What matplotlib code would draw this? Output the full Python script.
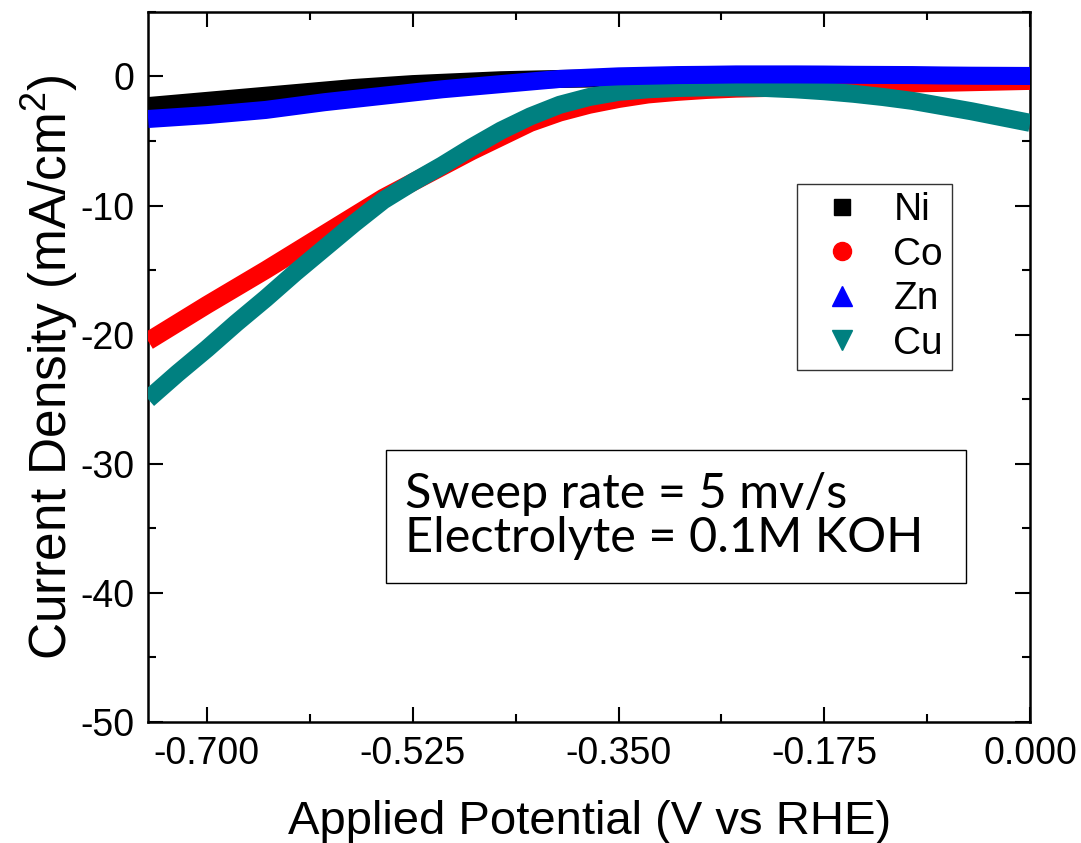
import matplotlib
matplotlib.use("Agg")
import matplotlib.pyplot as plt
from matplotlib.lines import Line2D
from matplotlib.patches import Rectangle
from matplotlib.ticker import MultipleLocator, FormatStrFormatter

plt.rcParams['font.family'] = ['Liberation Sans', 'DejaVu Sans']
plt.rcParams['axes.unicode_minus'] = False
plt.rcParams['mathtext.fontset'] = 'custom'
plt.rcParams['mathtext.rm'] = 'Liberation Sans'

# potential (V vs RHE)
potential = [-0.75, -0.725, -0.70, -0.675, -0.65, -0.625, -0.60, -0.575,
             -0.55, -0.525, -0.50, -0.475, -0.45, -0.425, -0.40, -0.375,
             -0.35, -0.325, -0.30, -0.275, -0.25, -0.225, -0.20, -0.175,
             -0.15, -0.125, -0.10, -0.075, -0.05, -0.025, 0.00]

# current density (mA/cm2)
ni = [-2.3, -2.1, -1.9, -1.7, -1.5, -1.3, -1.1, -0.9,
      -0.75, -0.6, -0.5, -0.4, -0.3, -0.25, -0.2, -0.17,
      -0.15, -0.13, -0.12, -0.11, -0.1, -0.1, -0.1, -0.1,
      -0.1, -0.1, -0.1, -0.1, -0.1, -0.1, -0.1]
co = [-20.5, -19.1, -17.7, -16.35, -15.0, -13.6, -12.2, -10.8,
      -9.4, -8.2, -7.0, -5.8, -4.7, -3.6, -2.8, -2.2,
      -1.75, -1.4, -1.2, -1.05, -0.95, -0.9, -0.85, -0.78,
      -0.7, -0.62, -0.55, -0.5, -0.45, -0.4, -0.35]
zn = [-3.3, -3.15, -3.0, -2.8, -2.6, -2.3, -2.0, -1.75,
      -1.5, -1.25, -1.0, -0.8, -0.6, -0.4, -0.2, -0.1,
      0.0, 0.05, 0.1, 0.12, 0.15, 0.15, 0.15, 0.14,
      0.12, 0.11, 0.1, 0.07, 0.05, 0.04, 0.03]
cu = [-25.0, -23.0, -21.1, -19.1, -17.2, -15.2, -13.3, -11.4,
      -9.6, -8.2, -6.9, -5.5, -4.2, -3.1, -2.2, -1.6,
      -1.2, -1.0, -0.9, -0.85, -0.85, -0.9, -1.0, -1.15,
      -1.35, -1.6, -1.9, -2.3, -2.7, -3.15, -3.6]

labels = ['Ni', 'Co', 'Zn', 'Cu']
colors = ['black', '#ff0000', '#0000ff', '#008080']
markers = ['s', 'o', '^', 'v']
msizes = [11, 13, 14, 14]
series = [ni, co, zn, cu]
zorders = [2, 3, 5, 4]

fig = plt.figure(figsize=(10.81, 8.43), dpi=100)
ax = fig.add_axes([0.137, 0.1435, 0.816, 0.8425])

for ys, c, z in zip(series, colors, zorders):
    ax.plot(potential, ys, color=c, lw=13, solid_joinstyle='round',
            solid_capstyle='butt', zorder=z)

ax.set_xlim(-0.75, 0.0)
ax.set_ylim(-50, 5)
ax.xaxis.set_major_locator(MultipleLocator(0.175))
ax.xaxis.set_minor_locator(MultipleLocator(0.0875))
ax.xaxis.set_major_formatter(FormatStrFormatter('%.3f'))
ax.yaxis.set_major_locator(MultipleLocator(10))
ax.yaxis.set_minor_locator(MultipleLocator(5))
ax.tick_params(which='both', direction='in', top=True, right=True,
               labelsize=27, width=1.5, pad=10)
ax.tick_params(which='major', length=11)
ax.tick_params(which='minor', length=6)
for s in ax.spines.values():
    s.set_linewidth(1.8)

ax.set_xlabel('Applied Potential (V vs RHE)', fontsize=34, labelpad=20)
ax.set_ylabel('Current Density (mA/cm$^\\mathregular{2}$)', fontsize=37, labelpad=0)

handles = [Line2D([], [], ls='none', marker=m, color=c, markersize=ms)
           for m, c, ms in zip(markers, colors, msizes)]
leg = ax.legend(handles, labels, loc='upper left',
                bbox_to_anchor=(0.736, 0.758), fontsize=28,
                frameon=True, fancybox=False, edgecolor='black',
                handlelength=1.88, handletextpad=0.37, labelspacing=0.22,
                borderpad=0.22, borderaxespad=0)
leg.get_frame().set_linewidth(1.0)

# annotation box
ax.add_patch(Rectangle((0.270, 0.196), 0.657, 0.187, transform=ax.transAxes,
                       fc='white', ec='black', lw=1.0, zorder=6))
ax.text(0.291, 0.290, 'Sweep rate = 5 mv/s\nElectrolyte = 0.1M KOH',
        transform=ax.transAxes, fontsize=35, family=['Lato', 'DejaVu Sans'],
        ha='left', va='center', linespacing=1.0, zorder=7)

fig.savefig('out.png', dpi=100)
